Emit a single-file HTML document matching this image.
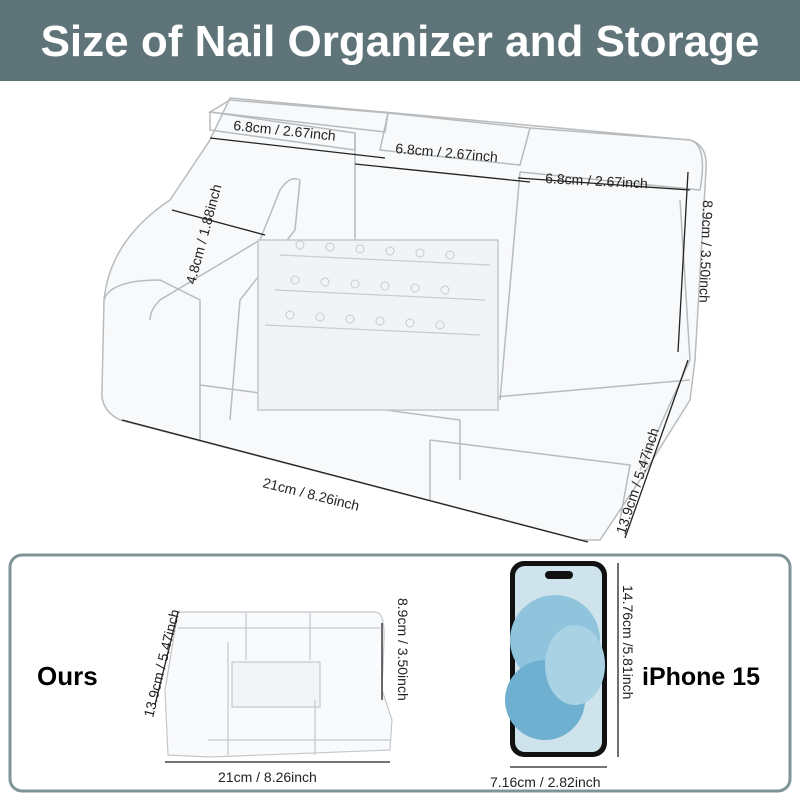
<!DOCTYPE html>
<html><head><meta charset="utf-8"><style>
body{margin:0;width:800px;height:800px;background:#fff;overflow:hidden;font-family:"Liberation Sans",sans-serif}
</style></head><body>
<svg width="800" height="800" viewBox="0 0 800 800" xmlns="http://www.w3.org/2000/svg" font-family="Liberation Sans, sans-serif">
<rect x="0" y="0" width="800" height="81" fill="#5e7479"/>
<text x="400" y="56" text-anchor="middle" font-size="44" font-weight="bold" fill="#fff">Size of Nail Organizer and Storage</text>

<g fill="none" stroke="#b8bcbf" stroke-width="1.5">
<path d="M230 98 L690 140 Q708 145 706 170 L695 360 L690 400 L640 480 L600 540 L580 540 L120 420 Q100 410 102 390 L104 300 Q110 240 170 200 L210 140 Z" fill="#f8f9fa"/>
<path d="M210 112 L230 100 L388 113 L385 132 Z"/>
<path d="M210 112 L355 133 L355 150 L210 130 Z"/>
<path d="M355 133 L355 370"/>
<path d="M388 113 L530 128 L520 165 L380 150 Z"/>
<path d="M530 128 L690 140 Q708 145 700 190 L520 172"/>
<path d="M520 172 L500 400"/>
<path d="M300 180 L295 230 L240 300 L230 420"/>
<path d="M300 180 Q290 175 280 190 L260 240 L160 300 Q150 310 150 320"/>
<path d="M104 300 Q110 280 160 280 L200 300 L200 440"/>
<path d="M200 385 L460 420 L460 480"/>
<path d="M460 400 L690 380"/>
<path d="M430 440 L630 465 L620 520"/>
<path d="M430 440 L430 500"/>
<path d="M680 200 L690 360 L640 470"/>
<rect x="258" y="240" width="240" height="170" fill="#f1f3f5" stroke="#c4c8cc"/>
</g>
<g stroke="#c8ccd0" stroke-width="1.2">
<line x1="280" y1="255" x2="490" y2="265"/><line x1="275" y1="290" x2="485" y2="300"/><line x1="265" y1="325" x2="480" y2="335"/>
</g>
<g fill="none" stroke="#c8ccd0">
<circle cx="300" cy="245" r="4"/><circle cx="330" cy="247" r="4"/><circle cx="360" cy="249" r="4"/><circle cx="390" cy="251" r="4"/><circle cx="420" cy="253" r="4"/><circle cx="450" cy="255" r="4"/>
<circle cx="295" cy="280" r="4"/><circle cx="325" cy="282" r="4"/><circle cx="355" cy="284" r="4"/><circle cx="385" cy="286" r="4"/><circle cx="415" cy="288" r="4"/><circle cx="445" cy="290" r="4"/>
<circle cx="290" cy="315" r="4"/><circle cx="320" cy="317" r="4"/><circle cx="350" cy="319" r="4"/><circle cx="380" cy="321" r="4"/><circle cx="410" cy="323" r="4"/><circle cx="440" cy="325" r="4"/>
</g>

<g stroke="#222" stroke-width="1.3">
<line x1="210" y1="138" x2="385" y2="158"/>
<line x1="355" y1="164" x2="530" y2="182"/>
<line x1="518" y1="178" x2="690" y2="190"/>
<line x1="172" y1="210" x2="265" y2="235"/>
<line x1="122" y1="420" x2="588" y2="542"/>
<line x1="688" y1="172" x2="678" y2="352"/>
<line x1="688" y1="360" x2="625" y2="538"/>
</g>
<g font-size="14" fill="#222">
<text x="233" y="130" transform="rotate(6 233 130)">6.8cm / 2.67inch</text>
<text x="395" y="153" transform="rotate(5 395 153)">6.8cm / 2.67inch</text>
<text x="545" y="183" transform="rotate(3 545 183)">6.8cm / 2.67inch</text>
<text x="195" y="285" transform="rotate(-75 195 285)">4.8cm / 1.88inch</text>
<text x="262" y="487" transform="rotate(14 262 487)">21cm / 8.26inch</text>
<text x="703" y="200" transform="rotate(92 703 200)">8.9cm / 3.50inch</text>
<text x="625" y="535" transform="rotate(-72 625 535)">13.9cm / 5.47inch</text>
</g>

<rect x="10" y="555" width="780" height="236" rx="12" fill="#fff" stroke="#7f9496" stroke-width="3"/>
<text x="37" y="685" font-size="26" font-weight="bold" fill="#000">Ours</text>
<g fill="none" stroke="#c4c8cc" stroke-width="1.2">
<path d="M178 612 L375 612 Q385 612 384 640 L382 690 L392 720 L390 750 L210 757 L168 755 L165 690 Z" fill="#f9fafb"/>
<line x1="246" y1="612" x2="246" y2="660"/><line x1="310" y1="612" x2="310" y2="660"/>
<line x1="178" y1="628" x2="380" y2="628"/>
<line x1="228" y1="642" x2="228" y2="755"/>
<rect x="232" y="662" width="88" height="45" fill="#f2f4f5"/>
<line x1="208" y1="740" x2="390" y2="740"/><line x1="315" y1="700" x2="315" y2="755"/>
</g>
<g stroke="#222" stroke-width="1.3">
<line x1="178" y1="612" x2="155" y2="705"/>
<line x1="382" y1="623" x2="382" y2="700"/>
<line x1="165" y1="762" x2="390" y2="762"/>
</g>
<g font-size="14" fill="#222">
<text x="153" y="718" transform="rotate(-76 153 718)">13.9cm / 5.47inch</text>
<text x="398" y="598" transform="rotate(90 398 598)">8.9cm / 3.50inch</text>
<text x="218" y="782">21cm / 8.26inch</text>
</g>

<rect x="510" y="561" width="97" height="196" rx="14" fill="#111"/>
<rect x="515" y="566" width="87" height="186" rx="10" fill="#cfe3ec"/>
<ellipse cx="555" cy="640" rx="45" ry="45" fill="#8fc4dc"/>
<ellipse cx="545" cy="700" rx="40" ry="40" fill="#6fb0d0"/>
<ellipse cx="575" cy="665" rx="30" ry="40" fill="#a9d3e5"/>
<rect x="545" y="571" width="28" height="8" rx="4" fill="#111"/>
<g stroke="#222" stroke-width="1.3">
<line x1="618" y1="563" x2="618" y2="757"/>
<line x1="510" y1="767" x2="607" y2="767"/>
</g>
<g font-size="14" fill="#222">
<text x="623" y="585" transform="rotate(90 623 585)">14.76cm /5.81inch</text>
<text x="490" y="787">7.16cm / 2.82inch</text>
</g>
<text x="642" y="685" font-size="25" font-weight="bold" fill="#000">iPhone 15</text>
</svg>
</body></html>
